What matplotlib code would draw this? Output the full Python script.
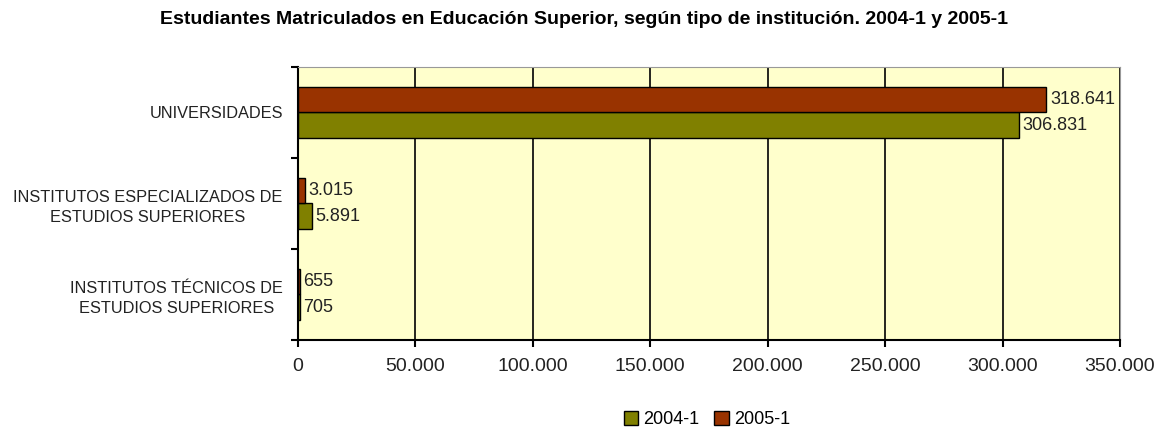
import numpy as np
import matplotlib
matplotlib.use("Agg")
import matplotlib.pyplot as plt
from matplotlib.patches import Patch

plt.rcParams['font.family'] = ['Liberation Sans', 'DejaVu Sans']

categorias = ["UNIVERSIDADES",
              "INSTITUTOS ESPECIALIZADOS DE\nESTUDIOS SUPERIORES",
              "INSTITUTOS TÉCNICOS DE\nESTUDIOS SUPERIORES"]
matric_2004 = [306831, 5891, 705]
matric_2005 = [318641, 3015, 655]
series = ["2004-1", "2005-1"]
xticks = [0, 50000, 100000, 150000, 200000, 250000, 300000, 350000]


def fmt(v):
    return f"{v:,}".replace(",", ".")


fig = plt.figure(figsize=(11.57, 4.28), dpi=100)
ax = fig.add_axes([0.2576, 0.2056, 0.7104, 0.638])
ax.set_facecolor("#FFFFCC")

y = np.arange(len(categorias))[::-1].astype(float)
h = 0.28
verde = "#808000"
rojo = "#993300"
b04 = ax.barh(y - h / 2, matric_2004, height=h, color=verde, edgecolor="black", linewidth=1)
b05 = ax.barh(y + h / 2, matric_2005, height=h, color=rojo, edgecolor="black", linewidth=1)

for bars in (b04, b05):
    for r in bars:
        w = r.get_width()
        ax.text(w + 1500, r.get_y() + r.get_height() / 2, fmt(int(w)),
                va="center", ha="left", fontsize=13, color="#222222")

ax.set_xlim(0, 350000)
ax.set_ylim(-0.5, 2.5)
ax.set_xticks(xticks)
ax.set_xticklabels([fmt(t) for t in xticks], fontsize=14, color="#222222")
ax.set_yticks(y)
ax.set_yticklabels(categorias, fontsize=11.8, ha="right", multialignment="center",
                   linespacing=1.4, color="#222222")
ax.tick_params(axis="y", length=0, pad=11)
ax.set_yticks([-0.5, 0.5, 1.5, 2.5], minor=True)
ax.tick_params(axis="y", which="minor", length=5, width=1.5)
ax.tick_params(axis="x", length=5, width=1.5, pad=8)
ax.grid(axis="x", color="black", linewidth=1.2)
ax.set_axisbelow(True)

for s in ("top", "right"):
    ax.spines[s].set_color("#999999")
for s in ("left", "bottom"):
    ax.spines[s].set_color("black")
    ax.spines[s].set_linewidth(1.5)

fig.text(0.505, 0.955,
         "Estudiantes Matriculados en Educación Superior, según tipo de institución. 2004-1 y 2005-1",
         fontsize=14, fontweight="bold", ha="center", va="center")

handles = [Patch(facecolor=verde, edgecolor="black", label=series[0]),
           Patch(facecolor=rojo, edgecolor="black", label=series[1])]
fig.legend(handles=handles, loc="center", bbox_to_anchor=(0.611, 0.02), ncol=2,
           frameon=False, fontsize=13, handlelength=0.8, handleheight=0.8,
           handletextpad=0.3, columnspacing=0.8)

fig.savefig("out.png", dpi=100)
